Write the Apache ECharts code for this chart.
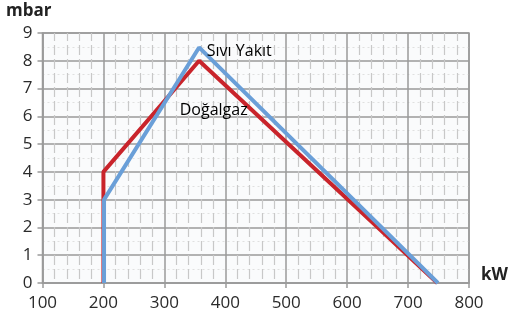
<!DOCTYPE html>
<html><head><meta charset="utf-8">
<script src="https://cdn.jsdelivr.net/npm/echarts@6/dist/echarts.min.js"></script>
<style>html,body{margin:0;padding:0;background:#fff}#c{width:512px;height:325px}</style>
</head><body><div id="c"></div>
<script>
const xTicks = [100, 200, 300, 400, 500, 600, 700, 800];
const yTicks = [0, 1, 2, 3, 4, 5, 6, 7, 8, 9];
const gasX = [200, 200, 357, 748];
const gasY = [0, 4, 8, 0];
const oilX = [201, 201, 357, 749];
const oilY = [0, 3, 8.48, 0];
const labelNames = ["Sıvı Yakıt", "Doğalgaz"];
const labelX = [423, 381];
const labelY = [8.32, 6.2];

const chart = echarts.init(document.getElementById('c'), null, {renderer: 'canvas'});
const font = '"Open Sans", "Noto Sans", sans-serif';
chart.setOption({
  animation: false,
  textStyle: {fontFamily: font},
  grid: {left: 42.5, right: 43, top: 33, bottom: 42, show: true, backgroundColor: '#fafbfc', borderColor: '#9a9a9a', borderWidth: 1.5},
  xAxis: {
    type: 'value', min: xTicks[0], max: xTicks[xTicks.length - 1], interval: 100,
    axisLine: {show: true, lineStyle: {color: '#9a9a9a', width: 1.5}},
    axisTick: {show: true, length: 5, lineStyle: {color: '#9a9a9a', width: 1.5}},
    axisLabel: {color: '#2a2a2a', fontSize: 17, margin: 12, fontFamily: font},
    splitLine: {show: true, lineStyle: {color: '#9a9a9a', width: 1.5}},
    minorTick: {show: true, splitNumber: 5, length: 0},
    minorSplitLine: {show: true, lineStyle: {color: '#c8c8c8', width: 1.2, type: [10, 4], dashOffset: 2}}
  },
  yAxis: {
    type: 'value', min: yTicks[0], max: yTicks[yTicks.length - 1], interval: 1,
    axisLine: {show: true, lineStyle: {color: '#9a9a9a', width: 1.5}},
    axisTick: {show: true, length: 5, lineStyle: {color: '#9a9a9a', width: 1.5}},
    axisLabel: {color: '#2a2a2a', fontSize: 17, margin: 10, fontFamily: font},
    splitLine: {show: true, lineStyle: {color: '#9a9a9a', width: 1.5}},
    minorTick: {show: true, splitNumber: 2, length: 0},
    minorSplitLine: {show: true, lineStyle: {color: '#e0e0e0', width: 1, type: [2, 3]}}
  },
  series: [
    {type: 'line', data: gasX.map((x, i) => [x, gasY[i]]), symbol: 'none', lineStyle: {color: '#c9242b', width: 4}, z: 3},
    {type: 'line', data: oilX.map((x, i) => [x, oilY[i]]), symbol: 'none', lineStyle: {color: '#6a9fd8', width: 4}, z: 4},
    {type: 'scatter', symbolSize: 0, z: 5, itemStyle: {color: '#000', opacity: 1},
     data: labelNames.map((n, i) => ({value: [labelX[i], labelY[i]], name: n})),
     label: {show: true, position: 'inside', formatter: p => p.name, color: '#000', opacity: 1, textBorderWidth: 0, fontSize: 16, fontFamily: font}}
  ],
  graphic: [
    {type: 'text', left: 6, top: 3, style: {text: 'mbar', font: 'bold 17px ' + font, fill: '#222'}},
    {type: 'text', left: 481, top: 267, style: {text: 'kW', font: 'bold 17px ' + font, fill: '#222'}}
  ]
});
</script></body></html>
